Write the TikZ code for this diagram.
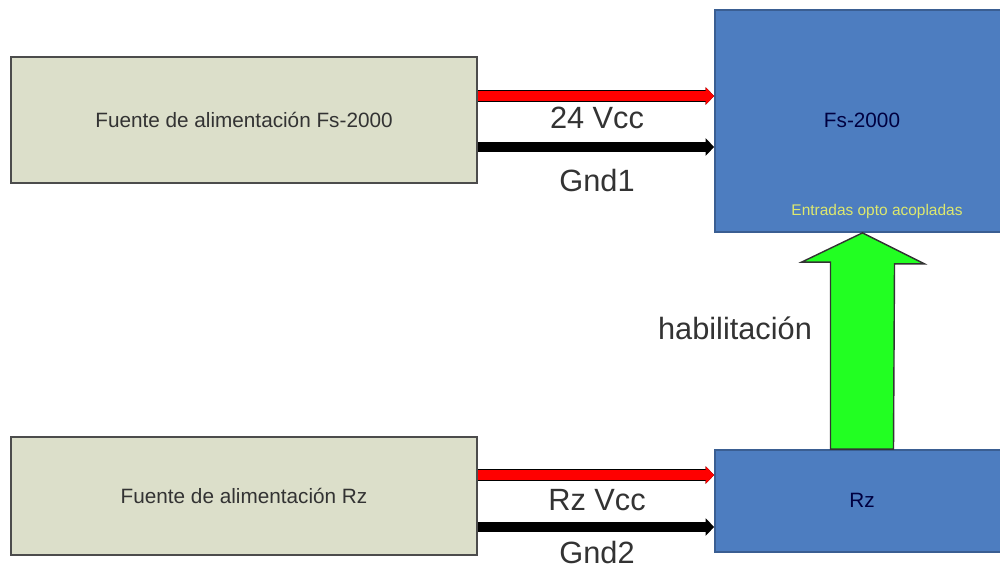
\documentclass[tikz,border=0pt]{standalone}
\usepackage{fontspec}
\setmainfont{Liberation Sans}
\usetikzlibrary{arrows.meta}

\definecolor{cajabeige}{HTML}{DCDFCA}
\definecolor{cajaazul}{HTML}{4D7DC0}
\definecolor{bordeazul}{HTML}{3A5E92}
\definecolor{textoamarillo}{HTML}{DDE86E}
\definecolor{verdeflecha}{HTML}{22FF22}

\tikzset{
  fuente/.style={draw=black!70, line width=1.4pt, fill=cajabeige, text=black!80,
    font=\fontsize{11.8}{14}\selectfont, inner sep=0pt},
  equipo/.style={draw=bordeazul, line width=1pt, fill=cajazul, inner sep=0pt},
  cable/.style={line width=0.2cm, -{Triangle[length=0.17cm,width=0.34cm]}},
  etiqueta/.style={text=black!80, font=\fontsize{17.5}{20}\selectfont},
}
\colorlet{cajazul}{cajaazul}

\begin{document}
\begin{tikzpicture}[x=0.02cm, y=-0.02cm]
      \useasboundingbox (0,0) rectangle (1000,569);

      % fuentes de alimentacion
      \node[fuente, minimum width=9.32cm, minimum height=2.52cm] (fuente1) at (244,120) {Fuente de alimentación Fs-2000};
      \node[fuente, minimum width=9.32cm, minimum height=2.36cm] (fuente2) at (244,496) {Fuente de alimentación Rz};

      % equipos
      \node[equipo, minimum width=5.9cm, minimum height=4.44cm] (fs) at (862.5,121) {};
      \node[text=blue!25!black, font=\fontsize{11.8}{14}\selectfont] (fstxt) at (862,120) {Fs-2000};
      \node[text=textoamarillo, font=\fontsize{8.8}{10}\selectfont] (entradas) at (877,211) {Entradas opto acopladas};
      \node[equipo, minimum width=5.9cm, minimum height=2.04cm] (rz) at (862.5,501) {};
      \node[text=blue!25!black, font=\fontsize{11.8}{14}\selectfont] (rztxt) at (862,500) {Rz};

      % cables Fs-2000
      \draw[cable, red, preaction={draw=black, line width=0.25cm}] ([yshift=0.48cm]fuente1.east) -- ([yshift=0.48cm]fuente1.east -| fs.west);
      \draw[cable, black] ([yshift=-0.54cm]fuente1.east) -- ([yshift=-0.54cm]fuente1.east -| fs.west);
      \node[etiqueta] (vcc1) at (597,118) {24 Vcc};
      \node[etiqueta] (gnd1) at (597,181) {Gnd1};

      % cables Rz
      \draw[cable, red, preaction={draw=black, line width=0.25cm}] ([yshift=0.42cm]fuente2.east) -- ([yshift=0.42cm]fuente2.east -| rz.west);
      \draw[cable, black] ([yshift=-0.62cm]fuente2.east) -- ([yshift=-0.62cm]fuente2.east -| rz.west);
      \node[etiqueta] (vcc2) at (597,500) {Rz Vcc};
      \node[etiqueta] (gnd2) at (597,552) {Gnd2};

      % flecha de habilitacion
      \draw[fill=verdeflecha, draw=black!80, line width=0.8pt, line join=miter]
        ([xshift=-0.64cm]rz.north) -- ++(0,-187) -- ++(-29,0) -- (fs.south)
        -- ++(62,31) -- ++(-30,0) -- ([xshift=0.62cm]rz.north) -- cycle;
      \node[etiqueta] (habil) at (735,328) {habilitación};

\end{tikzpicture}
\end{document}
